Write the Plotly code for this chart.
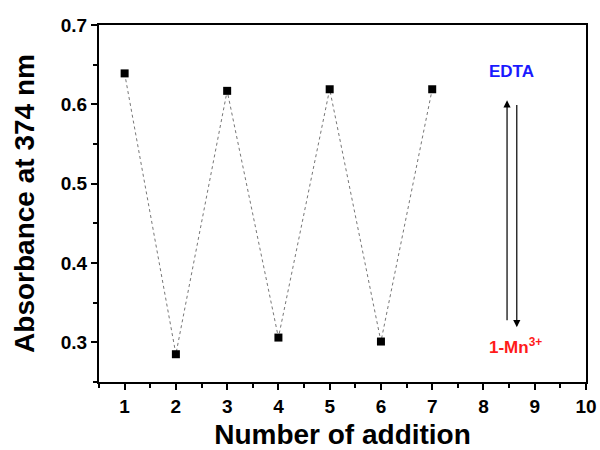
import plotly.graph_objects as go

additions = [1, 2, 3, 4, 5, 6, 7]
absorbance = [0.639, 0.285, 0.617, 0.306, 0.619, 0.301, 0.619]
x_ticks = [1, 2, 3, 4, 5, 6, 7, 8, 9, 10]
y_ticks = [0.3, 0.4, 0.5, 0.6, 0.7]

FONT = "Arial, Liberation Sans, sans-serif"

fig = go.Figure()
fig.add_trace(go.Scatter(
    x=additions, y=absorbance, mode="lines+markers",
    line=dict(color="#777777", width=1, dash="dot"),
    marker=dict(symbol="square", size=8, color="black"),
    showlegend=False,
))

axis_common = dict(
    showline=True, linecolor="black", linewidth=2, mirror=True,
    ticks="outside", ticklen=6, tickwidth=2, tickcolor="black",
    showgrid=False, zeroline=False, automargin=False,
    tickfont=dict(family=FONT, size=19, color="black"),
    minor=dict(ticks="outside", ticklen=4, tickwidth=1.5, tickcolor="black"),
)

fig.update_xaxes(
    range=[0.5, 10], tickvals=x_ticks, ticktext=[f"<b>{v}</b>" for v in x_ticks],
    title=dict(text="<b>Number of addition</b>", font=dict(family=FONT, size=28, color="black"), standoff=16),
    **axis_common,
)
fig.update_xaxes(minor_dtick=0.5, minor_tick0=0.5)
fig.update_yaxes(
    range=[0.25, 0.7], tickvals=y_ticks, ticktext=[f"<b>{v:.1f}</b>" for v in y_ticks],
    title=dict(text="<b>Absorbance at 374 nm</b>", font=dict(family=FONT, size=28, color="black"), standoff=18),
    **axis_common,
)
fig.update_yaxes(minor_dtick=0.05, minor_tick0=0.25)

# arrows
fig.add_annotation(x=8.46, y=0.605, ax=8.46, ay=0.326, xref="x", yref="y", axref="x", ayref="y",
                   showarrow=True, arrowhead=2, arrowsize=1.2, arrowwidth=1.2, arrowcolor="black", text="")
fig.add_annotation(x=8.65, y=0.319, ax=8.65, ay=0.601, xref="x", yref="y", axref="x", ayref="y",
                   showarrow=True, arrowhead=2, arrowsize=1.2, arrowwidth=1.2, arrowcolor="black", text="")
fig.add_annotation(x=8.55, y=0.641, xref="x", yref="y", text="<b>EDTA</b>", showarrow=False,
                   font=dict(family=FONT, size=17, color="#1a1aff"))
fig.add_annotation(x=8.63, y=0.295, xref="x", yref="y", text="<b>1-Mn<sup>3+</sup></b>", showarrow=False,
                   font=dict(family=FONT, size=17, color="#ff1a1a"))

fig.update_layout(
    width=600, height=450,
    margin=dict(l=99, r=14, t=25, b=68),
    paper_bgcolor="white", plot_bgcolor="white",
    font=dict(family=FONT),
)

fig.write_html(
    "out.html",
    config={"displayModeBar": False},
    post_script="document.body.style.margin='0';document.body.style.overflow='hidden';",
)
